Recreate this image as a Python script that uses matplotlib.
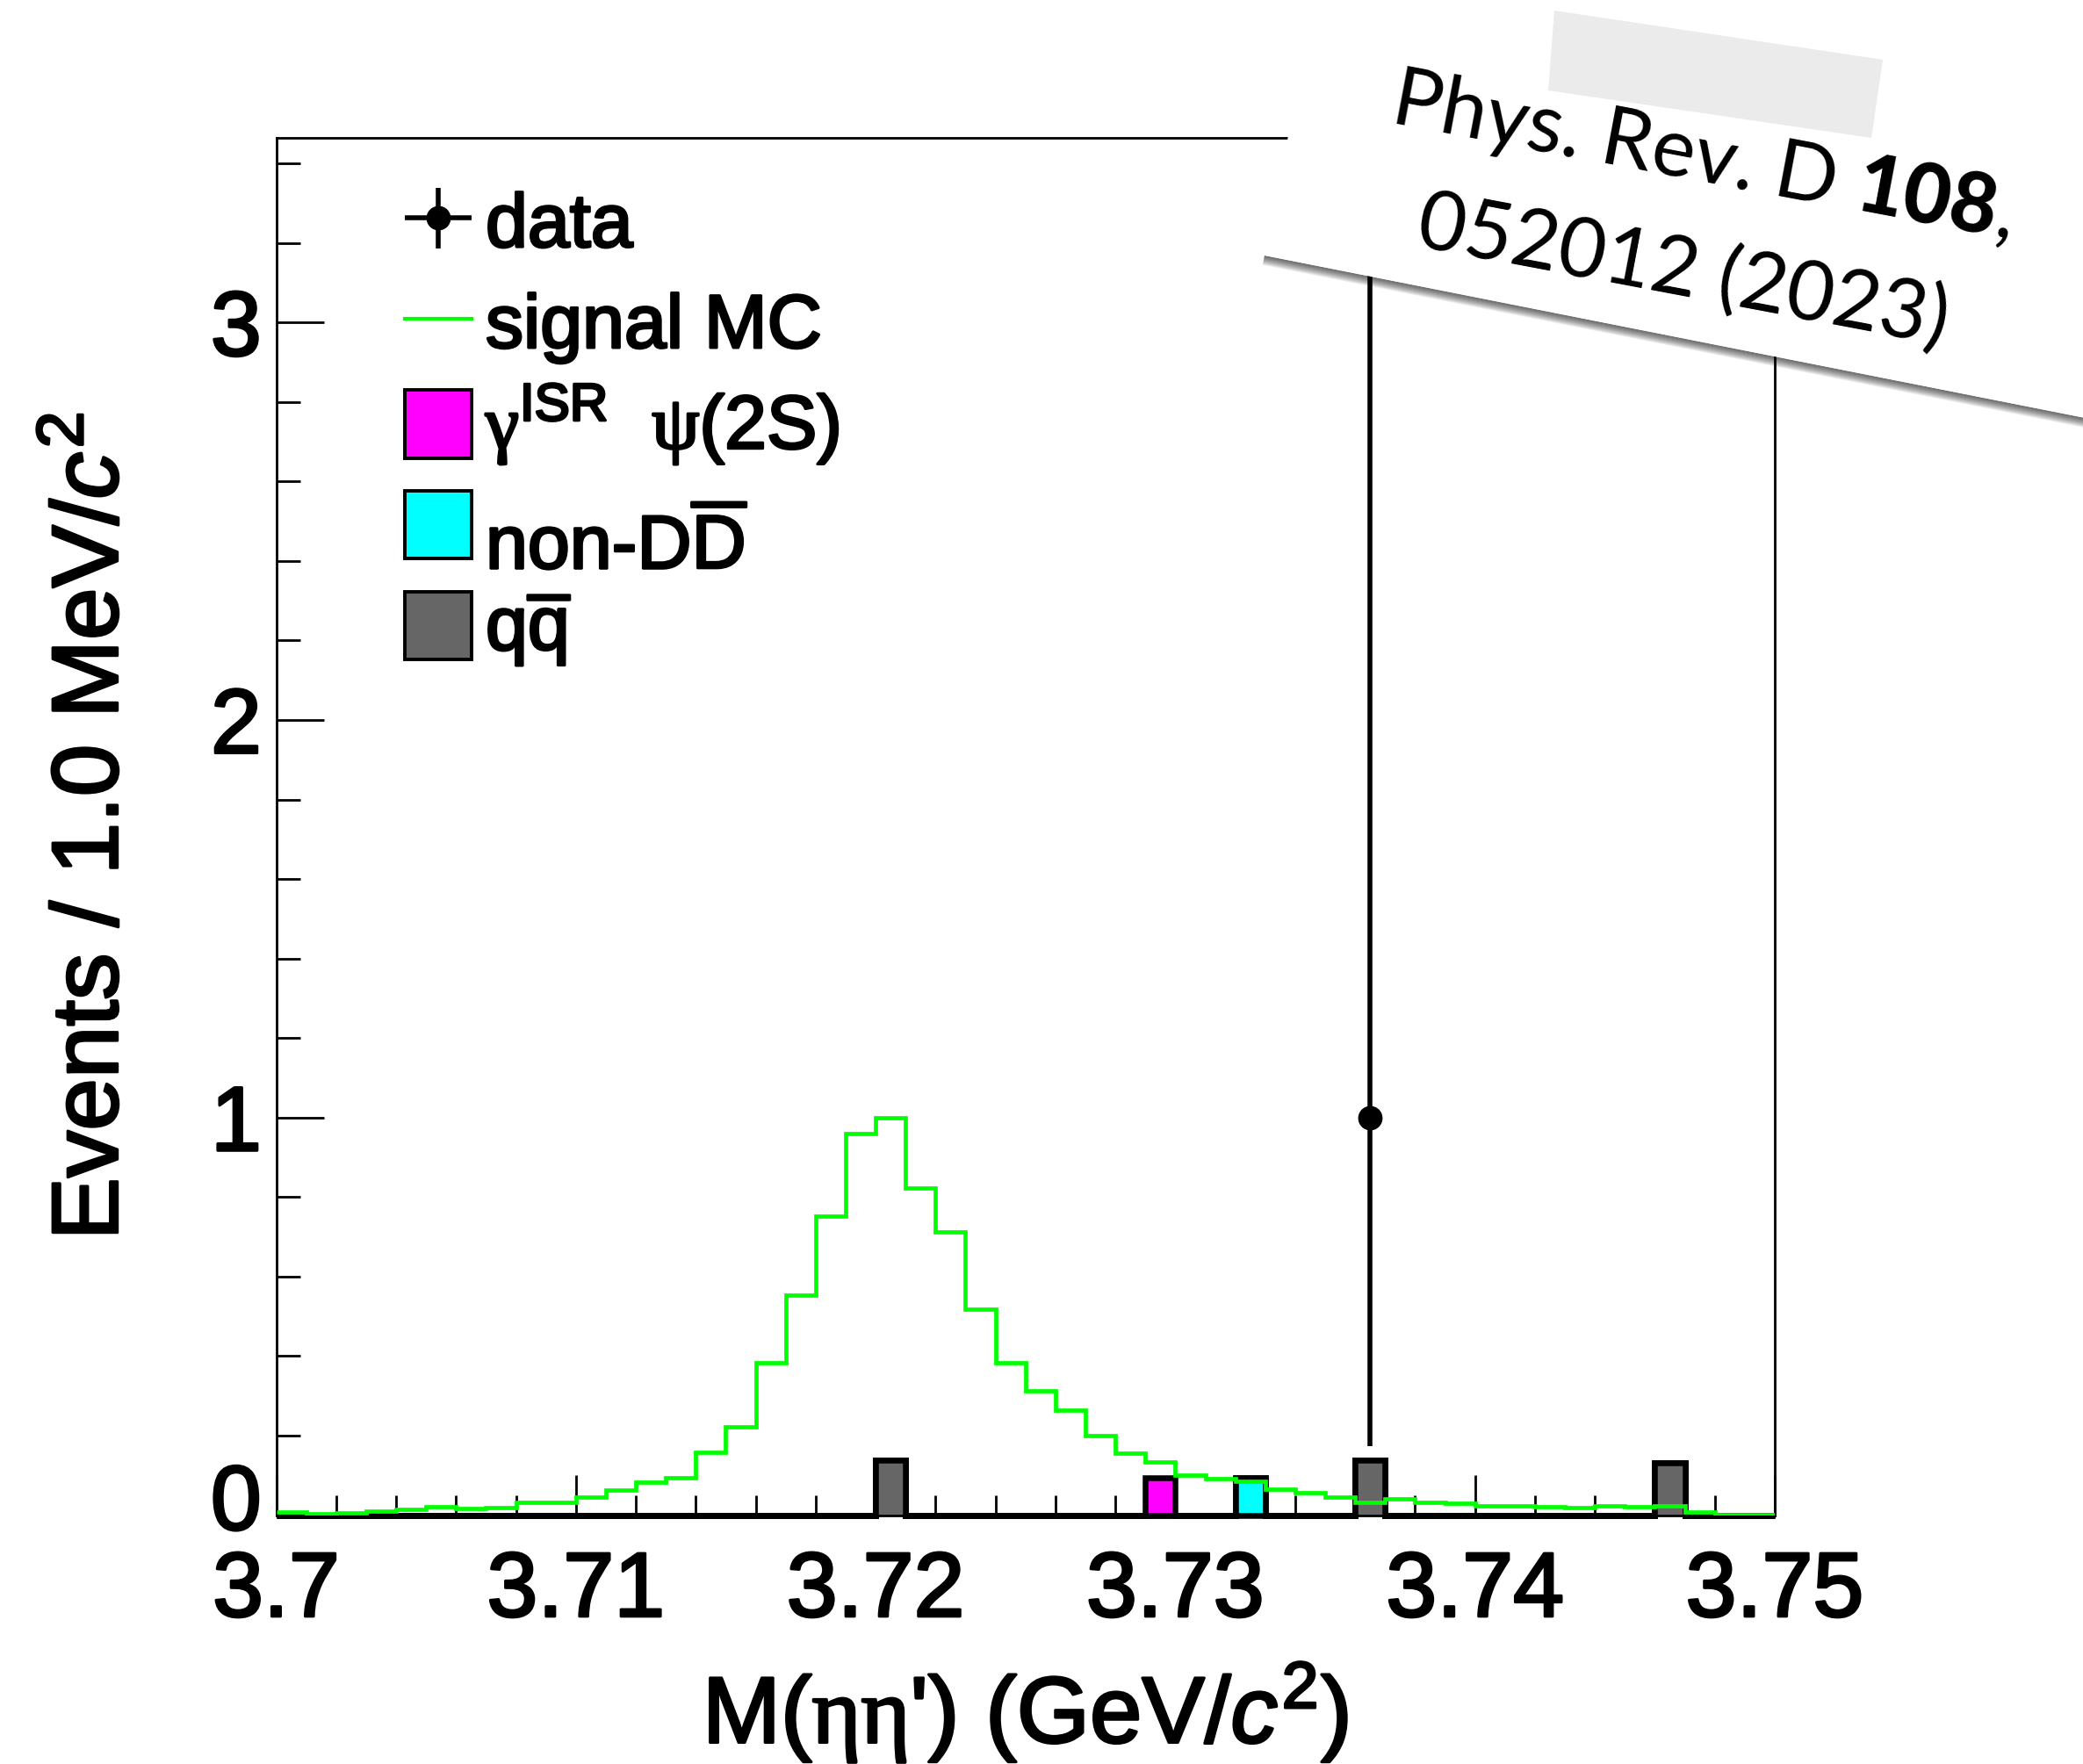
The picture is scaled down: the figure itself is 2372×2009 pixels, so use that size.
import numpy as np
import matplotlib
matplotlib.use('Agg')
import matplotlib.pyplot as plt
import matplotlib.patheffects as pe
from matplotlib.ticker import MultipleLocator, FixedLocator, FuncFormatter
from matplotlib.lines import Line2D
from matplotlib.patches import Polygon, Rectangle, StepPatch
from matplotlib.container import ErrorbarContainer
from matplotlib.legend_handler import HandlerErrorbar, HandlerPatch, HandlerLine2D
from matplotlib.transforms import Affine2D, ScaledTranslation

plt.rcParams['font.family'] = ['Liberation Sans', 'DejaVu Sans']
plt.rcParams['mathtext.fontset'] = 'custom'
plt.rcParams['mathtext.rm'] = 'Liberation Sans'
plt.rcParams['mathtext.it'] = 'Liberation Sans:italic'
plt.rcParams['mathtext.bf'] = 'Liberation Sans:bold'
plt.rcParams['mathtext.sf'] = 'Liberation Serif'   # greek letters, symbol-font look

# ---- binning: 1 MeV bins in M(eta eta')
m_lo, m_hi, n_bins = 3.70, 3.75, 50
edges = np.linspace(m_lo, m_hi, n_bins + 1)
centers = 0.5 * (edges[:-1] + edges[1:])

# signal MC shape (normalised to peak = 1)
signal_mc = [0.007, 0.004, 0.005, 0.010, 0.014, 0.020, 0.017, 0.018, 0.031, 0.032,
             0.045, 0.064, 0.082, 0.093, 0.157, 0.221, 0.384, 0.554, 0.753, 0.960,
             1.000, 0.823, 0.712, 0.518, 0.383, 0.313, 0.264, 0.200, 0.155, 0.133,
             0.100, 0.092, 0.086, 0.066, 0.057, 0.045, 0.031, 0.040, 0.033, 0.029,
             0.024, 0.024, 0.021, 0.018, 0.024, 0.021, 0.023, 0.007, 0.002, 0.002]

# data events and asymmetric poisson errors
data_mass = [3.7365]
data_err_lo = [0.827]
data_err_hi = [2.300]

# scaled background MC events
isr_mass = [3.7295]
isr_weight = [0.094]
nondd_mass = [3.7325]
nondd_weight = [0.094]
qq_mass = [3.7205, 3.7365, 3.7465]
qq_weight = [0.138, 0.138, 0.131]

W, H = 2372, 2009
fig = plt.figure(figsize=(W / 100, H / 100), dpi=100)
ax = fig.add_axes([0.1326, 0.1411, 0.7194, 0.7809])
heavy = [pe.withStroke(linewidth=2.2, foreground='black')]

# ---- background stack (drawn top-down like THStack)
h_qq, _ = np.histogram(qq_mass, edges, weights=qq_weight)
h_nondd, _ = np.histogram(nondd_mass, edges, weights=nondd_weight)
h_isr, _ = np.histogram(isr_mass, edges, weights=isr_weight)
layers = [h_qq, h_nondd, h_isr]
colors = ['#666666', '#00ffff', '#ff00ff']
cum = np.cumsum(layers, axis=0)
bkg = [None] * 3
for i in reversed(range(3)):
    bkg[i] = ax.stairs(cum[i], edges, fill=True, facecolor=colors[i],
                       edgecolor='black', linewidth=4.7, clip_on=False, zorder=2)

# ---- signal MC
ax.stairs(signal_mc, edges, baseline=None, color='#00ff00', linewidth=3.4, zorder=3)
sig_proxy = Line2D([], [], color='#00ff00', linewidth=3.0)

# ---- data
counts, _ = np.histogram(data_mass, edges)
sel = counts > 0
eb = ax.errorbar(centers[sel], counts[sel], xerr=0, yerr=[data_err_lo, data_err_hi],
                 fmt='o', color='black', ms=19, elinewidth=4, capsize=0, zorder=4)

# ---- axes cosmetics (ROOT style)
ax.set_xlim(m_lo, m_hi)
ax.set_ylim(0, 3.465)
ax.xaxis.set_major_locator(MultipleLocator(0.01))
ax.xaxis.set_minor_locator(MultipleLocator(0.002))
ax.yaxis.set_major_locator(FixedLocator([0, 1, 2, 3]))
ax.yaxis.set_minor_locator(MultipleLocator(0.2))
ax.xaxis.set_major_formatter(FuncFormatter(lambda v, _: f'{v:g}'))
ax.yaxis.set_major_formatter(FuncFormatter(lambda v, _: f'{v:g}'))
ax.tick_params(which='both', direction='in', top=False, right=False, width=2,
               colors='black', labelsize=75)
ax.tick_params(axis='x', which='major', length=33, pad=29)
ax.tick_params(axis='x', which='minor', length=16.6)
ax.tick_params(axis='y', which='major', length=39, pad=12)
ax.tick_params(axis='y', which='minor', length=19.4)
for sp in ax.spines.values():
    sp.set_linewidth(2)

ax.set_xlabel(r"M($\mathsf{\eta\eta}$') (GeV/$c^{2}$)", fontsize=77, path_effects=heavy)
ax.xaxis.set_label_coords(0.5, -0.105)
ax.set_ylabel(r'Events / 1.0 MeV/$c^{2}$', fontsize=77, path_effects=heavy)
ax.yaxis.set_label_coords(-0.093, 0.5)


class BoxHandler(HandlerPatch):
    def create_artists(self, legend, orig_handle, xdescent, ydescent,
                       width, height, fontsize, trans):
        box_h = 56
        p = Rectangle((-xdescent, -ydescent + (height - box_h) / 2), width, box_h)
        self.update_prop(p, orig_handle, legend)
        p.set_linewidth(2.8)
        p.set_transform(trans)
        return [p]


def lowered(handler_cls, dy, **kw):
    class Lowered(handler_cls):
        def create_artists(self, legend, orig_handle, xdescent, ydescent,
                           width, height, fontsize, trans):
            return super().create_artists(legend, orig_handle, xdescent, ydescent,
                                          width, height, fontsize,
                                          Affine2D().translate(0, -dy) + trans)
    return Lowered(**kw)


labels = ['data', 'signal MC', r'$\mathsf{\gamma}^{\rm ISR}$  $\mathsf{\psi}$(2S)',
          r'non-D$\overline{\rm D}$', r'q$\overline{\rm q}$']
leg = ax.legend([eb, sig_proxy, bkg[2], bkg[1], bkg[0]], labels,
                loc='upper left', bbox_to_anchor=(0.0858, 0.9752), frameon=False,
                fontsize=62, handlelength=0.883, handleheight=1.675, handletextpad=0.186,
                labelspacing=0, borderpad=0, borderaxespad=0,
                handler_map={ErrorbarContainer: lowered(HandlerErrorbar, 7.2,
                                                        xerr_size=0.44, yerr_size=0.4),
                             Line2D: lowered(HandlerLine2D, 7.2),
                             StepPatch: BoxHandler()})
for t in leg.get_texts():
    t.set_path_effects(heavy)
leg.get_texts()[3].set_y(-22)

# ---- tick labels: heavier strokes, "0" lifted off the x labels
fig.canvas.draw()
for tk in ax.xaxis.get_major_ticks() + ax.yaxis.get_major_ticks():
    tk.label1.set_path_effects(heavy)
for tk in ax.yaxis.get_major_ticks():
    if tk.get_loc() == 0:
        tk.label1.set_transform(tk.label1.get_transform()
                                + ScaledTranslation(0, 0.21, fig.dpi_scale_trans))

# ---- citation note taped over the corner
ov = fig.add_axes([0, 0, 1, 1], zorder=10)
ov.set_xlim(0, W)
ov.set_ylim(H, 0)
ov.axis('off')

a = np.deg2rad(11.2)
along = np.array([np.cos(a), np.sin(a)])
up = np.array([np.sin(a), -np.cos(a)])
bl = np.array([1440.0, 291.0])
br = bl + along * 1300
paper = np.array([bl, br, br + up * 900, bl + up * 900])
for d in range(1, 12):
    ov.add_patch(Polygon([bl, br, br - up * d, bl - up * d], closed=True,
                         facecolor='black', edgecolor='none', alpha=0.07))
ov.add_patch(Polygon(paper, closed=True, facecolor='white', edgecolor='none'))
tape = [(1770, 12), (2144, 68), (2131, 157), (1763, 103)]
ov.add_patch(Polygon(tape, closed=True, facecolor='#ebebeb', edgecolor='none'))

renderer = fig.canvas.get_renderer()
t_rot = 10.7
t_dir = np.array([np.cos(np.deg2rad(t_rot)), np.sin(np.deg2rad(t_rot))])
note_kw = dict(fontsize=67, family='Lato', color='black')


def text_width(s, weight):
    t = ov.text(0, 0, s, weight=weight, **note_kw)
    w = t.get_window_extent(renderer).width
    t.remove()
    return w


def note_line(segments, center):
    space = text_width('P P', 'normal') - text_width('PP', 'normal')
    widths = []
    for s, wt in segments:
        widths.append(space if s == ' ' else text_width(s, wt))
    pos = np.array(center) - t_dir * sum(widths) / 2
    for (s, wt), w in zip(segments, widths):
        if s != ' ':
            ov.text(pos[0], pos[1], s, weight=wt, rotation=-t_rot,
                    rotation_mode='anchor', ha='left', va='baseline', **note_kw)
        pos = pos + t_dir * w


note_line([('Phys. Rev. D', 'normal'), (' ', 'normal'), ('108', 'black'),
           (',', 'normal')], (1936, 206))
note_line([('052012 (2023)', 'normal')], (1912, 336))

fig.savefig('out.png', dpi=100)
